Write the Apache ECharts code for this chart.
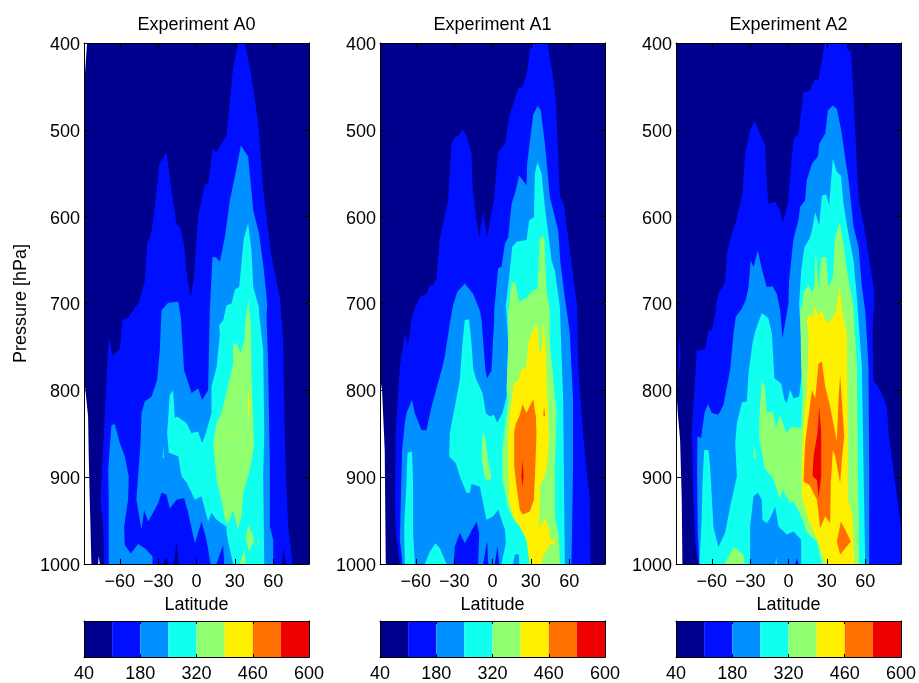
<!DOCTYPE html>
<html><head><meta charset="utf-8">
<script src="https://cdn.jsdelivr.net/npm/echarts@6/dist/echarts.min.js"></script>
<style>html,body{margin:0;padding:0;background:#fff}#c{width:919px;height:683px}</style></head>
<body><div id="c"></div>
<script>
const latTicks=[-60,-30,0,30,60];
const barTicks=[40,180,320,460,600];
const levelEdges=[40,110,180,250,320,390,460,530,600];
const levelColors=['#00008f','#0010ff','#0090ff','#10ffef','#90ff70','#fff000','#ff7000','#ef0000'];
const titles=['Experiment A0','Experiment A1','Experiment A2'];

// ---- Experiment A0: outlines of each filled level as [latitude, pressure] ----
const a0Navy=[[-85.6,400],[88,400],[88,1000],[-75.7,1000],[-76.4,991],[-77,1000],[-82.2,1000],[-83.5,926],[-84.3,876],[-84.8,830],[-86.9,800],[-88,785],[-88,439],[-87.4,439]];
const a0Blue=[[-72.3,1000],[-73,957],[-75.1,926],[-73.8,888],[-71.7,826],[-69.9,773],[-68.4,738],[-65.7,761],[-60,752],[-57.9,719],[-53.5,716],[-49.6,708],[-44.5,697],[-40.4,673.5],[-38.6,631],[-35.2,618],[-31.8,577.5],[-29.2,541],[-23.5,525.6],[-19.6,570],[-15.7,608],[-12.5,613],[-9.9,631],[-7.3,670],[-4.4,693],[-2.1,670],[1.3,598.6],[6.5,563],[9.1,562],[12.5,522],[15.7,525.6],[23.5,506],[28.7,427.7],[32.6,400],[37.8,400],[43,439],[48.3,493],[52.2,570],[58.7,646.6],[65.2,693],[67.8,742],[69,849],[70.3,910],[71.7,956],[75,1000]];
const a0NavySpikes=[[[-26,1000],[-23.5,991],[-21.6,1000]],[[-17.7,1000],[-15.7,974],[-14,1000]],[[66.8,1000],[68,981.6],[70,1000]]];
const a0Azure=[[60,1000],[60,972],[57.4,957],[57.4,888],[56.1,773],[54.8,715],[55.3,700],[52.7,662],[49,620],[44.4,593],[40.4,530.6],[34.7,518],[30,554],[26.1,581],[22.2,623.6],[18.3,652],[15.1,646.6],[12.5,646.6],[10.4,708],[9.1,800],[4.4,811],[1.3,798],[-3.9,803],[-9.7,777],[-12.3,715],[-14.3,698],[-22.2,699],[-27.4,708],[-28.7,754],[-30.8,788],[-35.2,807],[-40.4,813],[-43,826],[-43.8,861],[-47,926],[-43,960.5],[-41,938],[-37.8,951],[-30,930],[-27.4,918],[-23.5,920],[-20.9,936],[-15.7,926],[-9.7,924],[-6.5,941],[-1.3,976],[3.9,951],[7.8,972],[11,1000],[15.6,1000],[20.8,978],[21.6,1000]];
const a0AzureLobe=[[-68.6,1000],[-68.6,926],[-69.1,892],[-66.5,840],[-63.9,839],[-60,861],[-56.1,876],[-53,899],[-53.5,926],[-56.6,957],[-56.1,978],[-51.4,988],[-45.7,977],[-40.4,982],[-34.4,991],[-34.4,1000]];
const a0Cyan=[[23.5,702],[27.4,700],[30,684],[33.4,681],[37,625.5],[40.4,607.5],[43,639],[44.4,681],[48.8,704],[49,711.5],[52.2,754],[53,849],[52.2,899],[53,1000],[28.6,1000],[24.8,975],[23.5,964],[23.5,957],[15.7,949],[11.7,941],[9.1,951],[3.9,922],[-1.3,926],[-7.8,906],[-11.7,899],[-14.3,876],[-21.7,872],[-23,849],[-20.9,805],[-18.3,800],[-17,832],[-15.1,830],[-7.8,838],[-3.9,849],[1.3,847.5],[4.4,861],[7.3,849],[11.7,826],[11.7,796],[15.7,773],[18.3,734.5],[17.7,725],[20.9,719]];
const a0CyanSpot=[[-26.4,878],[-26,864],[-25.4,878]];
const a0Green=[[40.7,696],[37.8,727],[37.8,742],[34.4,757],[31.3,746],[28.7,746],[28.7,769],[24.8,794],[19.6,826],[15.7,838],[13,861],[15.7,903],[19.6,926],[22.2,949],[24.8,953],[28.7,938],[32.6,960.5],[35.2,945],[36.5,918],[41.7,892],[44.9,865],[44.4,838],[43,784],[42.5,727]];
const a0GreenLow=[[33.9,1000],[36.5,988],[37.8,981.6],[38.4,1000]];
const a0GreenBlob=[[40.4,955],[44.4,968],[44.9,974],[41.2,985.5],[38.4,970]];
const a0GreenDot=[[47.8,978],[48.3,970],[49,978]];
const a0Yellow=[[39.9,815],[40.7,800],[41.5,815],[41,836]];
const a0YellowDot=[[28.9,851],[29.3,846],[29.7,851],[29.3,856]];

// ---- Experiment A1 ----
const a1Navy=[[-88,400],[88,400],[88,1000],[-83.5,1000],[-84.3,869],[-86.4,800],[-88,785]];
const a1Blue=[[-60.8,708],[-57.4,693],[-51.7,689],[-49,679],[-46.4,679],[-43.8,671.6],[-41.2,625.5],[-34.7,581],[-32.1,516],[-29,507.6],[-26.9,507.6],[-23.5,500],[-20.9,505],[-16.4,527.5],[-15.7,566],[-12.5,604],[-10.4,623.6],[-7.3,595],[-4.2,623.6],[1,581],[4.4,525.6],[9.7,516],[13.6,481.4],[20.1,452.6],[23.5,450.7],[27.1,433],[29.7,402.7],[30.5,400],[43,400],[47,435],[49.6,466],[52.7,577.5],[55.8,585],[61.8,654],[66.3,704],[67,773],[70.9,849],[73.6,892],[76.2,926],[76.7,1000],[-72.5,1000],[-75.7,964],[-76.2,926],[-75.7,849],[-72.5,773],[-68.6,734.5],[-66,748],[-63.4,719],[-59.5,698]];
const a1Azure=[[-70.4,1000],[-72.5,972],[-71.7,926],[-70.7,868.6],[-68.6,838],[-67.3,826],[-62.9,811],[-60.8,826],[-55.6,845.6],[-51.7,846],[-47.7,819],[-43.8,798],[-39.9,777],[-37.3,761],[-33.4,723],[-30.8,702],[-27.7,687],[-21.7,677],[-15.1,689],[-9.9,708],[-8.6,719],[-5.5,777],[-4.2,786],[-0.8,777],[1.3,719],[1.3,708],[4.4,659],[7,658],[9.7,631],[12.3,623.6],[14.9,585],[17.5,573.6],[20.9,552.5],[26.6,564],[27.1,539],[31.8,483],[35.2,472.6],[37.8,477.6],[41,516],[44.9,577.5],[51.4,616],[53.2,654],[56.6,693],[60.5,734],[63,811],[63,888],[61.8,1000]];
const a1BluePatches=[[[-30.3,1000],[-29.5,980],[-25.6,964],[-21.7,976],[-12.5,951],[-10.4,964],[-11.2,1000]],[[-7.3,1000],[-4.2,973],[-3.4,1000]],[[1.8,1000],[3.9,979],[5.2,1000]]];
const a1Cyan=[[10.4,702],[13.6,662],[15.4,635],[18.8,629],[26.6,627],[28.7,604],[32.4,600.5],[33.1,550.6],[35.2,537],[38.4,550.6],[41,589],[44.9,635],[46.2,650.5],[48.8,662],[52.7,704],[55.3,811],[55.8,888],[56.6,1000],[7,1000],[10.4,976],[9.7,960.5],[4.4,937.5],[0.5,945],[-4.7,949],[-7.3,930],[-9.9,911],[-16.4,908],[-17.7,918],[-20.4,918],[-25.6,899],[-28.7,884],[-33.9,876],[-33.4,849],[-29.5,819],[-25.6,788],[-23.5,746],[-21.7,719],[-18.3,718],[-16.4,746],[-15.1,775],[-12.5,788],[-7.8,803],[-5.2,826],[-2.1,830],[1,828],[3.7,837],[7.8,826],[11,807],[11.5,784],[12.3,746]];
const a1CyanLobe=[[-68.6,1000],[-69.1,957],[-67.3,907],[-66.5,872],[-62.9,870.5],[-62.1,907],[-62.1,964],[-60.8,1000]];
const a1CyanLow=[[-53,1000],[-49,985.5],[-44.6,976],[-41.2,982],[-36,1000]];
const a1AzureLow=[[16.2,1000],[17.5,989],[20.6,989],[20.9,1000]];
const a1Green=[[12.3,708],[14.9,675.5],[18,677],[20.9,698.5],[26.6,693],[31.3,685],[35.2,683],[37,625.5],[40.4,622],[42.3,685],[44.9,708],[44.9,746],[48.8,807],[50.1,826],[48.8,888],[48.8,945],[52.2,972],[52.7,1000],[29.2,1000],[27.9,981.6],[25.3,962.5],[17.5,951],[12.3,935.6],[7.8,903],[7.6,868.6],[9.7,842],[12.3,811],[11,800],[12.3,746]];
const a1GreenBlob=[[-7.8,849.4],[-6,853],[-3.4,880],[-0.8,901],[-3.4,904],[-6,901],[-8.6,876]];
const a1Yellow=[[27.9,746],[33.1,725],[35.2,727],[37,761],[39.1,746],[39.7,721],[41.5,746],[42.3,784],[43.6,830],[44.1,857],[42.3,892],[37,911],[37,926],[36.5,958.6],[41,947],[43.6,957],[45.7,972],[48.8,973],[48.8,978],[44.9,977],[39.7,991],[38.4,1000],[29.2,1000],[26.6,972],[21.4,957],[16.2,945],[13,926],[12.3,888],[12.3,857],[13.6,826],[16.7,792],[20.1,788],[23.5,773],[26.1,777]];
const a1Orange=[[17,847.5],[18,840],[21.4,828],[23.5,816],[26.6,826],[31.8,810],[33.9,830],[34.4,849],[33.7,880],[32.4,926],[29.2,939.5],[23.5,943],[21.4,937.5],[18.8,911],[17,888]];
const a1OrangeDot=[[39.7,828],[40.4,819],[41.2,829.5],[40.4,830]];
const a1Red=[[23.5,880],[24.3,899],[23.5,911],[22.7,899]];

// ---- Experiment A2 ----
const a2Navy=[[-88,400],[88,400],[88,1000],[-83,1000],[-83.5,926],[-84.8,857],[-86.6,826],[-88,792]];
const a2Blue=[[-57.4,708],[-54.8,689],[-49.6,675.5],[-48.3,643],[-44.4,620],[-41.2,606],[-36,573.6],[-33.9,527.5],[-30,500.6],[-26.6,489],[-22.2,504.5],[-18.3,518],[-17,562],[-15.7,585],[-10.4,583],[-6.5,593],[-4.4,606.5],[-0.5,585],[2.1,539],[3.9,510],[7.8,504.5],[11.7,456.5],[16.2,455.7],[20.3,443],[23.5,442],[26.1,420],[28.2,400],[45.1,400],[46.4,408.5],[49,410],[50.9,462],[54.8,577.5],[61.3,631],[67.3,689],[65.7,734.5],[66.5,788],[71.7,800],[77,819],[78.3,849],[83.5,907],[88,957],[88,1000],[-70.4,1000],[-73,976],[-74.4,926],[-75.7,849],[-71.7,754],[-65.2,752],[-62.6,731],[-60,731],[-56.1,702]];
const a2BlueEdge=[[-86.1,784],[-85.6,738],[-84.3,761]];
const a2Azure=[[-69.9,1000],[-71,964],[-71.5,888],[-71.2,853],[-68.4,855],[-65.7,826],[-63.1,815.6],[-60,826],[-54.8,828],[-50.9,817],[-45.7,777],[-43,734.5],[-41.2,715],[-36.5,706],[-33.4,696],[-31.3,681],[-29.5,650.5],[-27.4,658],[-24,639],[-20.9,660],[-17,681],[-12.5,680],[-9.1,689],[-6.5,708],[-4.7,740],[-1.8,715],[0,700],[0.5,673.5],[3.9,625.5],[7.8,604],[9.1,589],[13,581],[14.3,558],[18.3,539],[23,530.6],[24,516],[28.7,504.5],[30.8,477.6],[34.7,472],[37.8,475.7],[41.2,500.6],[47,558],[50.9,612],[54.8,635],[57.4,681],[60,708],[62.6,773],[63.1,888],[63.1,1000]];
const a2BlueSpike=[[5.2,1000],[6.5,993],[7.8,1000]];
const a2Cyan=[[-69.7,1000],[-67.8,945],[-67.3,907],[-66,868.6],[-62.6,868.6],[-61.3,888],[-58.7,957],[-54.8,980.5],[-49.6,964],[-45.7,934],[-40.4,899],[-41.7,861],[-40.4,838],[-36.5,814],[-32.6,813],[-31.3,780.5],[-28.2,746],[-26.1,732],[-20.9,711],[-15.7,717],[-13,734.5],[-11,786],[-5.7,792],[-3.1,811],[-1.3,815],[1.3,799],[3.9,809],[8.3,807],[11,773],[8.3,700],[9.9,662],[12.5,635],[16.4,625.5],[18.3,616],[20.9,595],[24,610],[26.1,575.6],[29.5,574.4],[31.8,587],[34.7,533],[37.8,548.7],[41,552.5],[43,585],[46.4,616],[50.9,650.5],[53.5,693],[57.4,773],[58.7,888],[60,1000],[9.9,1000],[9.9,972],[3.9,962.5],[-1.3,966],[-7.8,957],[-10.4,934],[-14.3,947],[-17,953],[-20.4,949],[-20.9,926],[-24,918],[-27.4,922],[-30,957],[-30,1000]];
const a2CyanDot=[[-10.4,1000],[-9.6,993],[-8.9,1000]];
const a2Green=[[10.4,708],[11.7,687],[15.7,679],[18.3,687],[20.1,681],[21.4,639],[23.5,681],[25.6,646.6],[29.5,646.6],[31.3,681],[34.7,669.7],[36.5,623.6],[39.9,606],[43,631],[45.7,662],[49.6,693],[50.9,708],[53.5,773],[54.3,888],[55.3,1000],[26.1,1000],[22.2,974],[14.3,964],[9.9,945],[3.9,928],[1.3,930],[-4.7,914.6],[-6.5,926],[-9.1,914.6],[-13,899],[-18.3,891],[-22.7,857],[-23,838],[-20.9,788],[-18.3,798],[-17,826],[-12.5,824.5],[-9.7,844],[-7,828.5],[-1.3,849.4],[2.6,842],[9.9,843.7],[11,803],[9.9,773],[9.1,700]];
const a2GreenBlob=[[-50,1000],[-43,980.5],[-35.2,989],[-34.4,1000]];
const a2CyanGreenDot=[[-27.4,878],[-26.6,861],[-25.6,878]];
const a2Yellow=[[14.3,719],[15.7,713],[18.3,717],[20.9,704],[23.5,713],[26.1,708],[28.7,719],[31.8,722],[35.2,715],[37.3,708],[39.9,681],[41.7,708],[45.7,734.5],[46.4,849.4],[46.4,926],[49.6,941],[51.7,1000],[29.2,1000],[23.5,976],[15.7,949],[10.4,922],[10.4,888],[11,861],[13,819],[14.3,800],[15.1,765],[15.7,738]];
const a2YellowTip=[[20,708],[20.9,702],[21.7,708]];
const a2YellowDot=[[3.7,901],[4,895],[4.4,901],[4,906]];
const a2Orange=[[11.7,905],[13,861],[15.7,830],[18.3,800],[20.9,809],[23.5,769],[26.1,767],[28.7,796],[32.6,819],[37.8,859],[39.1,811],[40.4,782],[41.7,811],[43.6,853],[41.7,880],[40.4,907],[36.5,876],[34.7,868.6],[33.1,907],[32.6,953],[28.7,945],[24.8,958.6],[22.2,926],[16.4,909]];
const a2OrangeBlob=[[37.8,974],[41,951],[44.4,960.5],[48.8,974],[40.4,989]];
const a2Red=[[24,819],[25.6,849.4],[25.6,899],[23.5,924],[22.2,903],[18.8,899],[19.6,876],[22.7,849.4]];

// painter's order: each entry is [colour index, outline]
const layersA0=[[0,a0Navy],[1,a0Blue],...a0NavySpikes.map(p=>[0,p]),[2,a0Azure],[2,a0AzureLobe],[3,a0Cyan],[3,a0CyanSpot],[4,a0Green],[4,a0GreenLow],[4,a0GreenBlob],[4,a0GreenDot],[5,a0Yellow],[5,a0YellowDot]];
const layersA1=[[0,a1Navy],[1,a1Blue],[2,a1Azure],...a1BluePatches.map(p=>[1,p]),[3,a1Cyan],[3,a1CyanLobe],[3,a1CyanLow],[2,a1AzureLow],[4,a1Green],[4,a1GreenBlob],[5,a1Yellow],[6,a1Orange],[6,a1OrangeDot],[7,a1Red]];
const layersA2=[[0,a2Navy],[1,a2Blue],[1,a2BlueEdge],[2,a2Azure],[1,a2BlueSpike],[3,a2Cyan],[3,a2CyanDot],[4,a2Green],[4,a2GreenBlob],[4,a2CyanGreenDot],[5,a2Yellow],[5,a2YellowTip],[5,a2YellowDot],[6,a2Orange],[6,a2OrangeBlob],[7,a2Red]];
const panelLayers=[layersA0,layersA1,layersA2];

const FONT='"Liberation Sans",Arial,sans-serif', FS=18;
const lefts=[84,380,676], W=225;
const axisLine={show:true,onZero:false,lineStyle:{color:'#000',width:1}};
const tick=vals=>({show:true,inside:true,length:5,customValues:vals,lineStyle:{color:'#000',width:1}});
const grid=[],xAxis=[],yAxis=[],series=[],title=[];
const fmt=v=>String(v).replace('-','\u2212');

panelLayers.forEach((layers,i)=>{
  const g=grid.length;
  grid.push({left:lefts[i],width:W,top:43,height:521,containLabel:false});
  title.push({text:titles[i],left:lefts[i]+W/2-5,top:11,textAlign:'center',textStyle:{fontFamily:FONT,fontSize:FS,fontWeight:'normal',color:'#000'}});
  const mkX=(pos,labels)=>({gridIndex:g,z:10,type:'value',min:-88,max:88,position:pos,axisLine,axisTick:tick(latTicks),splitLine:{show:false},
    axisLabel:{show:labels,customValues:latTicks,formatter:fmt,fontFamily:FONT,fontSize:FS,color:'#000',margin:9},
    name:labels?'Latitude':'',nameLocation:'middle',nameGap:29,nameTextStyle:{fontFamily:FONT,fontSize:FS,color:'#000'}});
  const xi=xAxis.length; xAxis.push(mkX('bottom',true),mkX('top',false));
  const mkY=(pos,labels)=>({gridIndex:g,z:10,type:'value',inverse:true,min:400,max:1000,interval:100,position:pos,axisLine,
    axisTick:{show:true,inside:true,length:5,lineStyle:{color:'#000',width:1}},splitLine:{show:false},
    axisLabel:{show:labels,formatter:v=>String(v),fontFamily:FONT,fontSize:FS,color:'#000',margin:4,verticalAlign:'top',lineHeight:4,showMinLabel:true,showMaxLabel:true},
    name:(labels&&i===0)?'Pressure [hPa]':'',nameLocation:'middle',nameGap:54,nameTextStyle:{fontFamily:FONT,fontSize:FS,color:'#000'}});
  const yi=yAxis.length; yAxis.push(mkY('left',true),mkY('right',false));
  series.push({type:'custom',xAxisIndex:xi,yAxisIndex:yi,coordinateSystem:'cartesian2d',clip:true,silent:true,z:1,
    data:layers.map((l,k)=>[l[1][0][0],l[1][0][1],k]),encode:{x:0,y:1},
    renderItem:(p,api)=>{const l=layers[p.dataIndex];
      return {type:'polygon',shape:{points:l[1].map(c=>api.coord(c))},style:{fill:levelColors[l[0]],stroke:null}};}});
});

// colour bars
lefts.forEach((left,i)=>{
  const g=grid.length;
  grid.push({left,width:W,top:621,height:36});
  const mkX=(pos,labels)=>({gridIndex:g,z:10,type:'value',min:40,max:600,position:pos,axisLine,axisTick:{show:true,inside:true,length:3,customValues:barTicks,lineStyle:{color:'#000',width:1}},splitLine:{show:false},
    axisLabel:{show:labels,customValues:barTicks,fontFamily:FONT,fontSize:FS,color:'#000',margin:8}});
  const xi=xAxis.length; xAxis.push(mkX('bottom',true),mkX('top',false));
  const mkY=pos=>({gridIndex:g,z:10,type:'value',min:0,max:1,position:pos,axisLine,axisTick:{show:false},axisLabel:{show:false},splitLine:{show:false}});
  const yi=yAxis.length; yAxis.push(mkY('left'),mkY('right'));
  series.push({type:'custom',xAxisIndex:xi,yAxisIndex:yi,clip:true,silent:true,z:1,
    data:levelColors.map((c,k)=>[levelEdges[k],levelEdges[k+1]]),encode:{x:[0,1]},
    renderItem:(p,api)=>{const a=api.coord([api.value(0),0]),b=api.coord([api.value(1),1]);
      return {type:'rect',shape:{x:a[0],y:b[1],width:b[0]-a[0],height:a[1]-b[1]},style:{fill:levelColors[p.dataIndex]}};}});
});

const chart=echarts.init(document.getElementById('c'),null,{renderer:'canvas'});
chart.setOption({animation:false,backgroundColor:'#fff',title,grid,xAxis,yAxis,series});
</script></body></html>
